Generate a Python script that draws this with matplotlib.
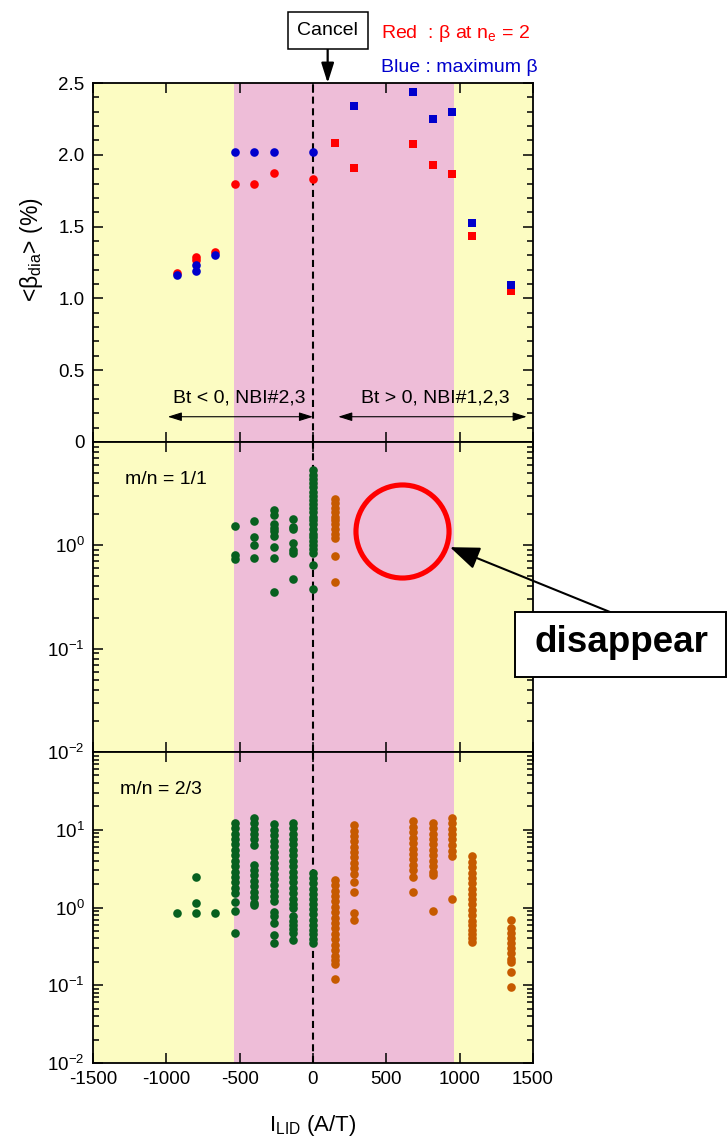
import numpy as np
import matplotlib
matplotlib.use("Agg")
import matplotlib.pyplot as plt
from matplotlib.ticker import LogLocator, MultipleLocator, NullFormatter, FuncFormatter
from matplotlib.patches import Rectangle

plt.rcParams['font.family'] = ['Liberation Sans', 'DejaVu Sans']
plt.rcParams['mathtext.fontset'] = 'custom'
plt.rcParams['mathtext.rm'] = 'Liberation Sans'
plt.rcParams['mathtext.it'] = 'Liberation Sans:italic'
plt.rcParams['mathtext.bf'] = 'Liberation Sans:bold'
plt.rcParams['font.size'] = 14
plt.rcParams['axes.linewidth'] = 1.3
plt.rcParams['axes.unicode_minus'] = False

# ---------------- data ----------------
# top panel: <beta_dia> (%)
red_circ_x = [-929, -797, -797, -666, -532, -400, -266, 2]
red_circ_y = [1.18, 1.29, 1.27, 1.32, 1.80, 1.80, 1.87, 1.83]
blue_circ_x = [-929, -797, -797, -666, -532, -400, -266, 2]
blue_circ_y = [1.16, 1.23, 1.19, 1.30, 2.02, 2.02, 2.02, 2.02]
red_sq_x = [150, 282, 680, 816, 950, 1084, 1350]
red_sq_y = [2.08, 1.906, 2.075, 1.927, 1.864, 1.435, 1.05]
blue_sq_x = [282, 680, 816, 950, 1084, 1350]
blue_sq_y = [2.34, 2.435, 2.25, 2.296, 1.525, 1.093]

# middle panel: m/n = 1/1 amplitudes
mn11_green_x = [-532, -400, -266, -133, 2]
mn11_green_amp = [
    [1.54, 0.80, 0.73],
    [1.72, 1.20, 1.0, 0.76],
    [2.2, 1.95, 1.62, 1.48, 1.38, 1.23, 0.96, 0.76, 0.35],
    [1.79, 1.52, 1.43, 1.06, 0.91, 0.85, 0.475],
    [5.3, 4.8, 4.4, 4.0, 3.65, 3.3, 3.0, 2.75, 2.5, 2.3, 2.1, 1.9, 1.75,
     1.6, 1.45, 1.3, 1.2, 1.1, 1.0, 0.92, 0.85, 0.65, 0.38],
]
mn11_orange_x = [150]
mn11_orange_amp = [
    [2.8, 2.55, 2.3, 2.1, 1.9, 1.75, 1.6, 1.45, 1.3, 1.19, 0.79, 0.44],
]

# bottom panel: m/n = 2/3 amplitudes
mn23_green_x = [-929, -797, -666, -532, -400, -266, -133, 2]
mn23_green_amp = [
    [0.84],
    [2.47, 1.13, 0.84],
    [0.84],
    [12.3, 10.5, 8.9, 7.6, 6.5, 5.5, 4.7, 4.0, 3.4, 2.9, 2.5, 2.1, 1.8, 1.53,
     1.16, 0.91, 0.475],
    [14.2, 12.1, 10.3, 8.8, 7.5, 6.4, 3.55, 3.0, 2.6, 2.2, 1.9, 1.6, 1.35,
     1.15, 1.08],
    [11.7, 10.0, 8.5, 7.2, 6.1, 5.2, 4.4, 3.75, 3.2, 2.7, 2.3, 1.95, 1.65,
     1.4, 1.2, 0.88, 0.78, 0.64, 0.44, 0.35],
    [12.3, 10.5, 8.9, 7.6, 6.5, 5.5, 4.7, 4.0, 3.4, 2.9, 2.5, 2.1, 1.8, 1.53,
     1.3, 1.1, 0.98, 0.77, 0.68, 0.6, 0.53, 0.47, 0.38],
    [2.78, 2.4, 2.05, 1.75, 1.5, 1.28, 1.1, 0.95, 0.82, 0.7, 0.6, 0.52, 0.45,
     0.39, 0.35],
]
mn23_orange_x = [150, 282, 680, 816, 950, 1084, 1350]
mn23_orange_amp = [
    [2.28, 1.95, 1.65, 1.4, 1.2, 1.02, 0.87, 0.74, 0.63, 0.54, 0.46, 0.39,
     0.33, 0.28, 0.24, 0.21, 0.19, 0.119],
    [11.4, 9.7, 8.3, 7.1, 6.0, 5.1, 4.4, 3.7, 3.2, 2.72, 2.1, 1.6, 0.85, 0.69],
    [12.8, 10.9, 9.3, 7.9, 6.7, 5.7, 4.9, 4.2, 3.55, 3.0, 2.5, 1.56],
    [12.3, 10.5, 8.9, 7.6, 6.5, 5.5, 4.7, 4.0, 3.4, 2.9, 2.64, 0.89],
    [14.2, 12.1, 10.3, 8.8, 7.5, 6.4, 5.4, 4.55, 1.28],
    [4.55, 3.9, 3.3, 2.8, 2.4, 2.05, 1.75, 1.5, 1.28, 1.1, 0.93, 0.8, 0.68,
     0.6, 0.52, 0.45, 0.4, 0.36],
    [0.69, 0.54, 0.47, 0.41, 0.35, 0.3, 0.26, 0.22, 0.2, 0.147, 0.096],
]

region_edges = [-1500, -540, 960, 1500]
x_ticks = [-1500, -1000, -500, 0, 500, 1000, 1500]

# ---------------- styling ----------------
YELLOW = '#FCFCC2'
PINK = '#EEBDD8'
GREEN = '#07601F'
ORANGE = '#C65A00'
RED = '#FF0000'
BLUE = '#0000CC'
TICK_FS = 13.5

W, H = 728, 1140
fig = plt.figure(figsize=(W / 100, H / 100), dpi=100)


def fax(l, t, r, b):
    return fig.add_axes([l / W, 1 - b / H, (r - l) / W, (b - t) / H])


ax_top = fax(93, 83, 533, 442)
ax_mid = fax(93, 442, 533, 752)
ax_bot = fax(93, 752, 533, 1063)

for ax in (ax_top, ax_mid, ax_bot):
    ax.set_facecolor(YELLOW)
    ax.axvspan(region_edges[1], region_edges[2], color=PINK, lw=0, zorder=0)
    ax.axvline(0, color='k', lw=1.5, ls=(0, (3.4, 2.2)), zorder=1)
    ax.set_xlim(-1500, 1500)
    ax.set_xticks(x_ticks)
    ax.tick_params(which='both', direction='in', top=True, right=True,
                   width=1.1, labelsize=TICK_FS)
    ax.tick_params(which='major', length=7)
    ax.tick_params(which='minor', length=4)
    ax.tick_params(axis='y', pad=6)
    ax.tick_params(axis='x', pad=6)
    if ax is not ax_bot:
        ax.tick_params(labelbottom=False)

# top panel
ax_top.plot(red_circ_x, red_circ_y, 'o', color=RED, ms=6.2, mew=0, zorder=3)
ax_top.plot(blue_circ_x, blue_circ_y, 'o', color=BLUE, ms=6.2, mew=0, zorder=4)
ax_top.plot(red_sq_x, red_sq_y, 's', color=RED, ms=5.8, mew=0, zorder=3)
ax_top.plot(blue_sq_x, blue_sq_y, 's', color=BLUE, ms=5.8, mew=0, zorder=4)
ax_top.set_ylim(0, 2.5)
ax_top.yaxis.set_major_locator(MultipleLocator(0.5))
ax_top.yaxis.set_minor_locator(MultipleLocator(0.1))
ax_top.yaxis.set_major_formatter(
    FuncFormatter(lambda v, p: '0' if abs(v) < 1e-9 else f'{v:.1f}'))
ax_top.set_ylabel(r'<β$_\mathregular{dia}$> (%)', fontsize=16.5)
ax_top.yaxis.set_label_coords(-0.11, 0.535)

ax_top.text(-505, 0.306, 'Bt < 0, NBI#2,3', ha='center', va='center')
ax_top.text(832, 0.306, 'Bt > 0, NBI#1,2,3', ha='center', va='center')
arr = dict(arrowstyle='<|-|>,head_length=0.7,head_width=0.22', lw=0.8,
           color='k', shrinkA=0, shrinkB=0, mutation_scale=12)
ax_top.annotate('', xy=(-990, 0.176), xytext=(0, 0.176), arrowprops=arr)
ax_top.annotate('', xy=(172, 0.176), xytext=(1457, 0.176), arrowprops=arr)

# Cancel annotation
ax_top.annotate('Cancel', xy=(100, 2.5), xycoords='data',
                xytext=(100, 1 - 30.5 / H),
                textcoords=('data', 'figure fraction'),
                ha='center', va='center', annotation_clip=False,
                bbox=dict(boxstyle='square,pad=0.5', fc='white', ec='k', lw=1.1),
                arrowprops=dict(arrowstyle='-|>,head_length=1.2,head_width=0.38',
                                mutation_scale=10, lw=1.6, color='k',
                                shrinkA=0, shrinkB=0))
fig.text(381 / W, 1 - 37.5 / H, r'Red  : β at n$_\mathregular{e}$ = 2',
         color=RED, va='baseline', ha='left')
fig.text(381 / W, 1 - 72.5 / H, 'Blue : maximum β', color=BLUE,
         va='baseline', ha='left')


def log_axis(ax, lo, hi, labeled):
    ax.set_yscale('log')
    ax.set_ylim(lo, hi)
    ax.set_yticks(labeled)
    ax.set_yticklabels([r'$\mathregular{10^{%d}}$' % int(round(np.log10(v)))
                        for v in labeled])
    ax.yaxis.set_minor_locator(LogLocator(base=10, subs=np.arange(2, 10),
                                          numticks=20))
    ax.yaxis.set_minor_formatter(NullFormatter())


# middle panel
for xv, amps in zip(mn11_green_x, mn11_green_amp):
    ax_mid.plot([xv] * len(amps), amps, 'o', color=GREEN, ms=6.2, mew=0, zorder=3)
for xv, amps in zip(mn11_orange_x, mn11_orange_amp):
    ax_mid.plot([xv] * len(amps), amps, 'o', color=ORANGE, ms=6.2, mew=0, zorder=3)
log_axis(ax_mid, 1e-2, 10, [1e-2, 1e-1, 1])
ax_mid.text(-1282, 4.37, 'm/n = 1/1', va='center', ha='left')
ax_mid.plot([609], [1.38], 'o', ms=67, mfc='none', mec=RED, mew=3.7, zorder=5,
            clip_on=False)

# bottom panel
for xv, amps in zip(mn23_green_x, mn23_green_amp):
    ax_bot.plot([xv] * len(amps), amps, 'o', color=GREEN, ms=6.2, mew=0, zorder=3)
for xv, amps in zip(mn23_orange_x, mn23_orange_amp):
    ax_bot.plot([xv] * len(amps), amps, 'o', color=ORANGE, ms=6.2, mew=0, zorder=3)
log_axis(ax_bot, 1e-2, 100, [1e-2, 1e-1, 1, 10])
ax_bot.text(-1316, 33, 'm/n = 2/3', va='center', ha='left')
ax_bot.set_xlabel(r'I$_\mathregular{LID}$ (A/T)', fontsize=16)
ax_bot.xaxis.set_label_coords(0.5, -0.16)

# "disappear" callout
fig.add_artist(Rectangle((515 / W, 1 - 677 / H), 211 / W, 65 / H,
                         transform=fig.transFigure, fc='white', ec='k',
                         lw=1.4, zorder=10))
fig.text(621 / W, 1 - 643 / H, 'disappear', fontsize=26.5, fontweight='bold',
         ha='center', va='center', zorder=11)
ax_mid.annotate('', xy=(934, 0.96), xycoords='data',
                xytext=(610 / W, 1 - 612 / H), textcoords='figure fraction',
                annotation_clip=False,
                arrowprops=dict(arrowstyle='-|>,head_length=1.3,head_width=0.5',
                                mutation_scale=14, lw=1.5, color='k',
                                shrinkA=0, shrinkB=0))

fig.savefig('out.png', dpi=100)
